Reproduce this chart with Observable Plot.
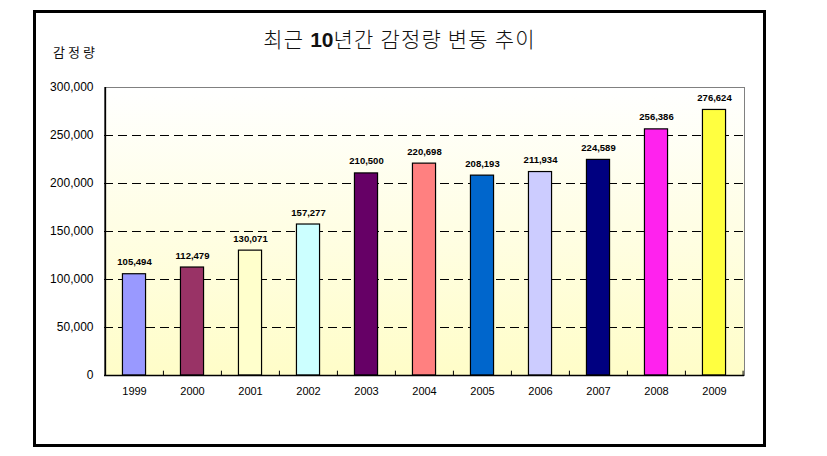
<!DOCTYPE html>
<html>
<head>
<meta charset="utf-8">
<script src="https://cdn.jsdelivr.net/npm/d3@7"></script>
<script src="https://cdn.jsdelivr.net/npm/@observablehq/plot@0.6"></script>
<style>
  body { margin: 0; background: #fff; }
  #wrap { position: relative; width: 827px; height: 456px; overflow: hidden; }
  #box { position: absolute; left: 33px; top: 10px; width: 733px; height: 437px; box-sizing: border-box; border: 3.5px solid #000; pointer-events: none; }
  #title { position: absolute; left: 33px; width: 733px; top: 23px; text-align: center; font-family: "Noto Sans CJK KR", "Liberation Sans", sans-serif; font-size: 21px; font-weight: 300; color: #111; line-height: 30px; letter-spacing: 1.2px; }
  #title b { font-family: "Liberation Sans", Arial, sans-serif; font-weight: bold; letter-spacing: 0; }
  #ylabel { position: absolute; left: 53px; top: 43px; font-family: "Noto Sans CJK KR", sans-serif; font-size: 13px; color: #111; line-height: 18px; letter-spacing: 3px; }
  #chart { position: absolute; left: 0; top: 0; }
</style>
</head>
<body>
<div id="wrap">
  <div id="chart"></div>
  <div id="box"></div>
  <div id="title">최근 <b>10</b>년간 감정량 변동 추이</div>
  <div id="ylabel">감정량</div>
</div>
<script>
const years = ["1999","2000","2001","2002","2003","2004","2005","2006","2007","2008","2009"];
const amounts = [105494, 112479, 130071, 157277, 210500, 220698, 208193, 211934, 224589, 256386, 276624];
const barColors = ["#9999FF","#993366","#FFFFCC","#CCFFFF","#660066","#FF8080","#0066CC","#CCCCFF","#000080","#FF22EE","#FFFF40"];
const gridValues = [50000, 100000, 150000, 200000, 250000];
const yTicks = [0, 50000, 100000, 150000, 200000, 250000, 300000];

const data = years.map((y, i) => ({year: y, value: amounts[i], color: barColors[i]}));

const W = 827, H = 456;
const mL = 104, mR = 83, mT = 87, mB = 81;
const band = (W - mL - mR) / years.length;
const fmt = d3.format(",");

const plot = Plot.plot({
  width: W,
  height: H,
  marginLeft: mL,
  marginRight: mR,
  marginTop: mT,
  marginBottom: mB,
  style: {background: "transparent", fontFamily: "'Liberation Sans', Arial, sans-serif", fontSize: "11px", color: "#000"},
  x: {domain: years, padding: 0, label: null, tickSize: 0, tickPadding: 12},
  y: {domain: [0, 300000], ticks: yTicks, tickFormat: d => fmt(d), label: null, tickSize: 0, tickPadding: 11},
  marks: [
    Plot.frame({fill: "url(#bgGrad)", stroke: "#808080"}),
    Plot.ruleY(gridValues, {stroke: "#000", strokeDasharray: "9,5", strokeWidth: 1}),
    Plot.barY(data, {x: "year", y: "value", fill: "color", stroke: "#000", strokeWidth: 1.2, insetLeft: band * 0.3, insetRight: band * 0.3}),
    Plot.ruleX(years.slice(1), {x: d => d, dx: -band / 2, y1: 0, y2: 4500, stroke: "#000"}),
    Plot.ruleX([years[years.length - 1]], {x: d => d, dx: band / 2 - 0.5, y1: 0, y2: 4500, stroke: "#000"}),
    Plot.ruleY([0], {stroke: "#000", strokeWidth: 1.5}),
    Plot.ruleX([years[0]], {x: d => d, dx: -band / 2, y1: 0, y2: 300000, stroke: "#000", strokeWidth: 1.5}),
    Plot.text(data, {x: "year", y: "value", text: d => fmt(d.value), dy: -9, lineAnchor: "bottom", fontWeight: "bold", fontSize: 9.5, fill: "#000"})
  ]
});

const svg = d3.select(plot);
svg.selectAll("[aria-label^='y-axis'] text").style("font-size", "12px");
svg.selectAll("[aria-label^='y-axis']").style("font-size", "12px");
const defs = svg.insert("defs", ":first-child");
const grad = defs.append("linearGradient").attr("id", "bgGrad").attr("x1", 0).attr("y1", 0).attr("x2", 0).attr("y2", 1);
grad.append("stop").attr("offset", "0%").attr("stop-color", "#FFFFFF");
grad.append("stop").attr("offset", "100%").attr("stop-color", "#FFFDC8");

document.getElementById("chart").appendChild(plot);
</script>
</body>
</html>
